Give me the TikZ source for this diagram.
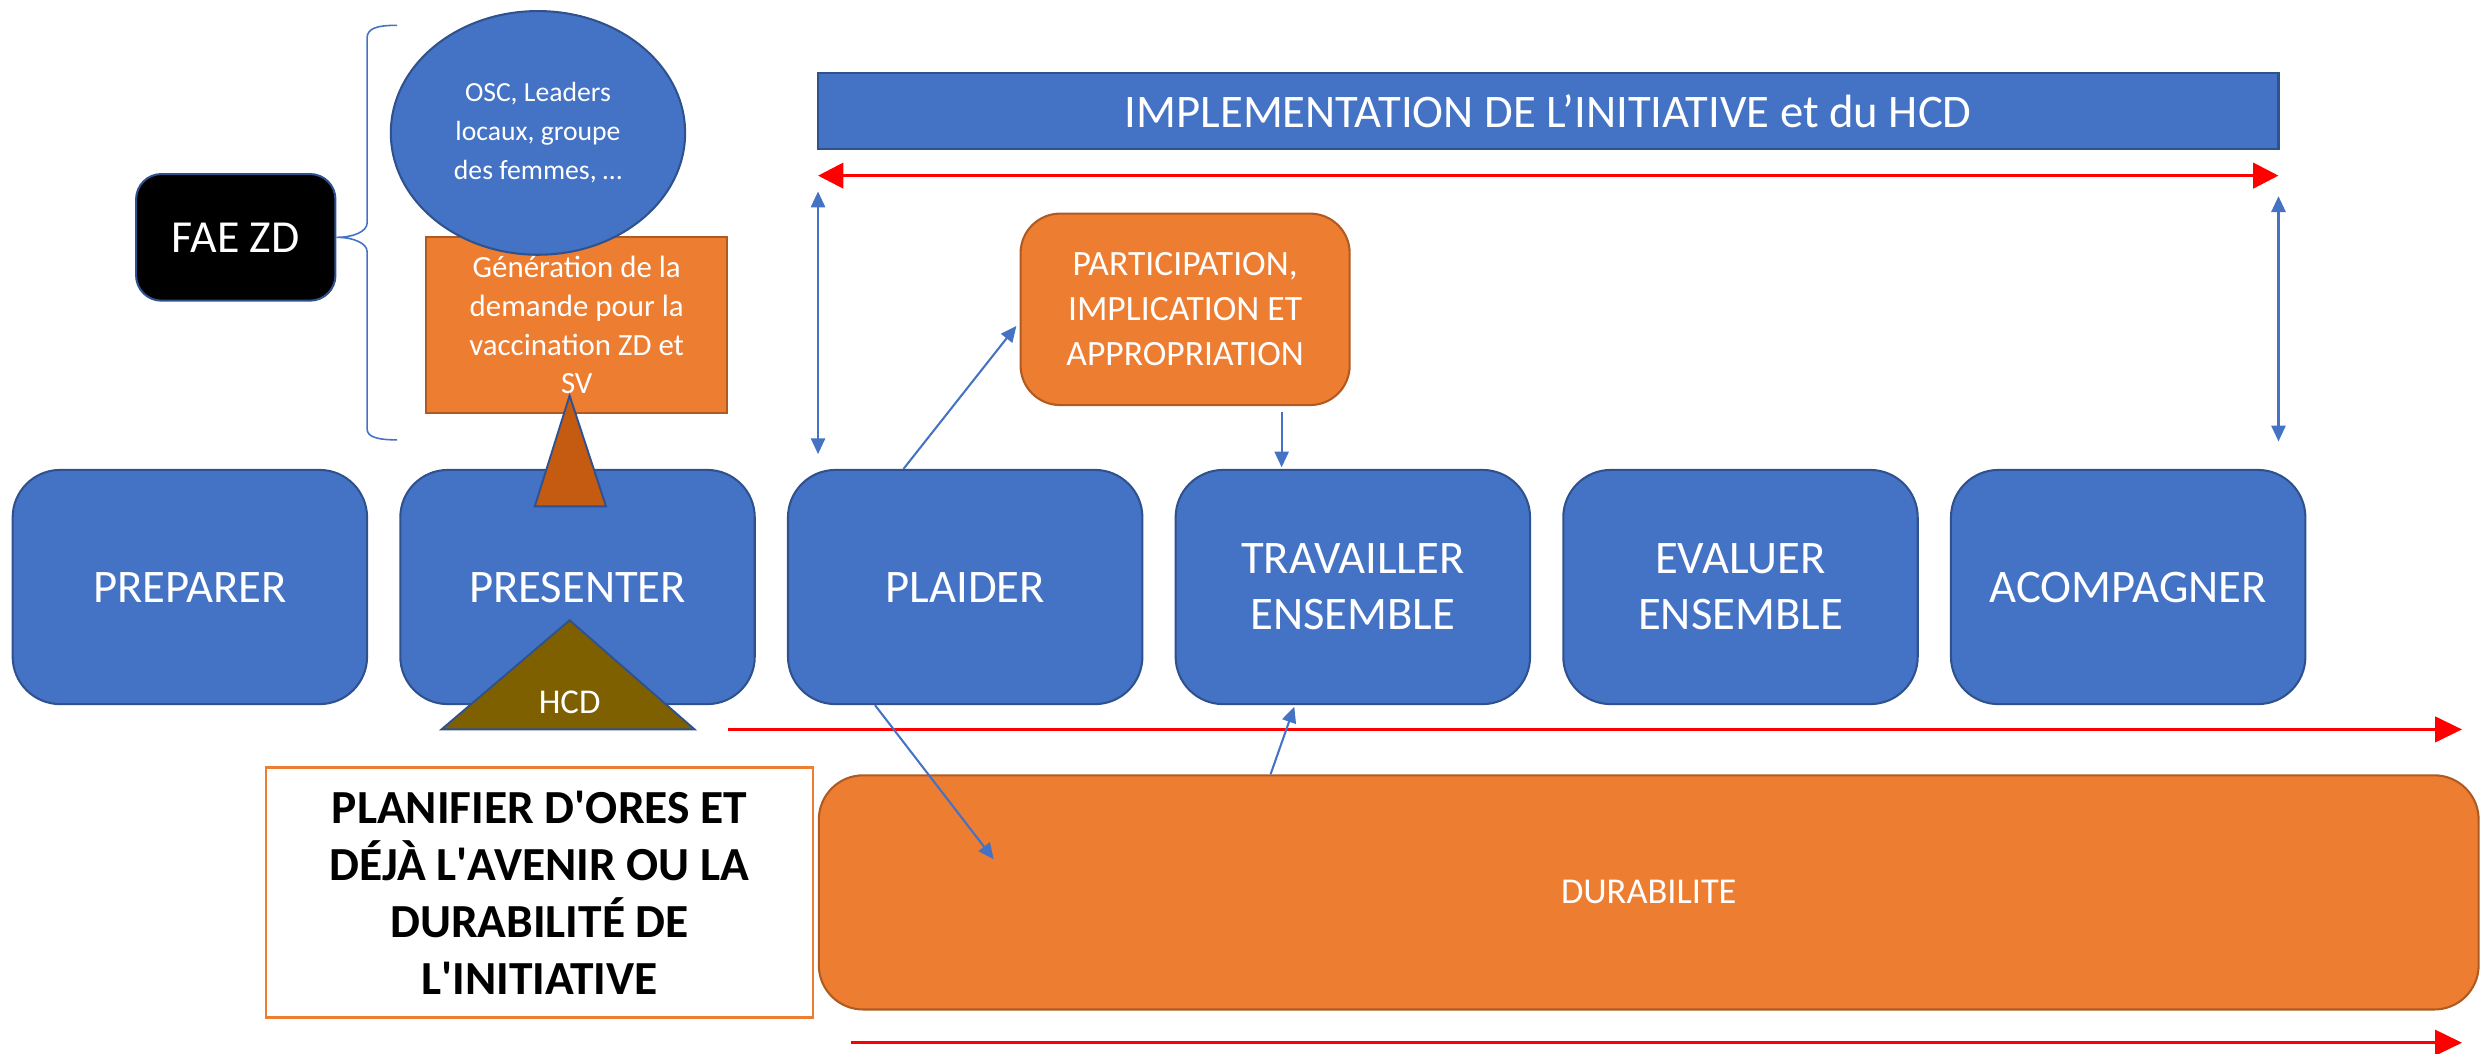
\documentclass[tikz,border=0pt]{standalone}
\usepackage{fontspec}
\setmainfont{Carlito}
\usetikzlibrary{arrows.meta,shapes.geometric,calc}
\definecolor{obBlue}{HTML}{4472C4}
\definecolor{obBlueDk}{HTML}{2F528F}
\definecolor{obOrange}{HTML}{ED7D31}
\definecolor{obOrangeDk}{HTML}{AE5A21}
\definecolor{obRust}{HTML}{C55A11}
\definecolor{obOlive}{HTML}{7F6000}
\definecolor{obRed}{HTML}{FF0000}
\tikzset{
  phase/.style={draw=obBlueDk, fill=obBlue, line width=1.3pt, rounded corners=30pt,
    minimum width=224pt, minimum height=148pt, inner sep=0pt, text=white, align=center,
    font=\fontsize{29.5}{35.5}\selectfont},
  orangebox/.style={draw=obOrangeDk, fill=obOrange, line width=1.3pt, inner sep=0pt,
    text=white, align=center},
  bluelink/.style={draw=obBlue, line width=1.3pt, -{Triangle[length=10pt,width=9pt]}},
  bluedouble/.style={draw=obBlue, line width=1.3pt,
    {Triangle[length=10pt,width=9pt]}-{Triangle[length=10pt,width=9pt]}},
  redline/.style={draw=obRed, line width=2pt, -{Triangle[length=17pt,width=16pt]}},
  reddouble/.style={draw=obRed, line width=2pt,
    {Triangle[length=16pt,width=16pt]}-{Triangle[length=16pt,width=16pt]}},
  shapeline/.style={draw=obBlueDk, line width=1.2pt},
}
\begin{document}
\begin{tikzpicture}[x=1pt,y=-1pt]
\useasboundingbox (0,0) rectangle (1568,666);

% FAE ZD and brace
\node[draw=obBlueDk, fill=black, line width=1.3pt, rounded corners=16pt,
  minimum width=126pt, minimum height=80pt, inner sep=0pt, text=white,
  font=\fontsize{29}{34}\selectfont] (fae) at (149,150) {FAE ZD};
\draw[obBlue, line width=1pt] (251,16) .. controls (238,16) and (232,18) .. (232,24)
  -- (232,141) .. controls (232,146) and (224,150) .. (fae.east)
  .. controls (224,150) and (232,154) .. (232,159)
  -- (232,271) .. controls (232,276) and (238,278) .. (251,278);

% demand generation and ellipse
\node[orangebox, minimum width=190pt, minimum height=111pt,
  font=\fontsize{19.5}{24.5}\selectfont] (gen) at (364.5,205.5)
  {Génération de la\\demande pour la\\vaccination ZD et\\SV};
\node[ellipse, draw=obBlueDk, fill=obBlue, line width=1.3pt, minimum width=186pt,
  minimum height=154pt, inner sep=0pt, text=white, align=center,
  font=\fontsize{17.5}{24.5}\selectfont] (osc) at (340,84)
  {OSC, Leaders\\locaux, groupe\\des femmes, \textellipsis};

% phases
\node[phase] (prep) at (120,371) {PREPARER};
\node[phase] (pres) at (365,371) {PRESENTER};
\node[phase] (plaid) at (610,371) {PLAIDER};
\node[phase] (trav) at (855,371) {TRAVAILLER\\ENSEMBLE};
\node[phase] (eval) at (1100,371) {EVALUER\\ENSEMBLE};
\node[phase] (acc) at (1345,371) {ACOMPAGNER};

% triangles
\filldraw[shapeline, fill=obRust] (360,250) -- (383,320) -- (338,320) -- cycle;
\filldraw[shapeline, fill=obOlive] (360,392) -- (439,461) -- (279,461) -- cycle;
\node[text=white, font=\fontsize{22}{26}\selectfont] (hcd) at (360,444) {HCD};

% implementation banner
\node[draw=obBlueDk, fill=obBlue, line width=1.5pt, minimum width=923pt,
  minimum height=48pt, inner sep=0pt, text=white,
  font=\fontsize{29.5}{34}\selectfont] (impl) at (978.5,70)
  {IMPLEMENTATION DE L’INITIATIVE et du HCD};
\coordinate (rdl) at (517,111);
\coordinate (rdr) at (1440,111);
\draw[reddouble] (rdl) -- (rdr);
\coordinate (bl1) at (517,121);
\coordinate (bl2) at (517,287);
\coordinate (br1) at (1440,124);
\coordinate (br2) at (1440,279);
\draw[bluedouble] (bl1) -- (bl2);
\draw[bluedouble] (br1) -- (br2);

% participation
\node[orangebox, rounded corners=25pt, minimum width=208pt, minimum height=121pt,
  font=\fontsize{22.5}{28.5}\selectfont] (part) at (749,195.5)
  {PARTICIPATION,\\IMPLICATION ET\\APPROPRIATION};
\draw[bluelink] ($(plaid.north)+(-39,0)$) -- ($(part.west)+(-2,10.5)$);
\draw[bluelink] ($(part.south)+(61,4)$) -- ($(trav.north)+(-45,-1)$);

% red timeline under phases
\coordinate (rm1) at (460,461);
\coordinate (rm2) at (1556,461);
\draw[redline] (rm1) -- (rm2);

% planning and durability
\node[draw=obOrange, fill=white, line width=1.5pt, minimum width=346pt,
  minimum height=158pt, inner sep=0pt, align=center,
  font=\bfseries\fontsize{30}{36}\selectfont] (plan) at (341,564)
  {PLANIFIER D\textquotesingle ORES ET\\DÉJÀ L\textquotesingle AVENIR OU LA\\DURABILITÉ DE\\L\textquotesingle INITIATIVE};
\node[orangebox, rounded corners=28pt, minimum width=1049pt, minimum height=148pt,
  font=\fontsize{23}{28}\selectfont] (dur) at (1042,564) {DURABILITE};
\coordinate (dtip) at (628,543);
\draw[bluelink] ($(plaid.south)+(-57,0)$) -- (dtip);
\draw[bluelink] ($(dur.north)+(-239,0)$) -- ($(trav.south)+(-37,1)$);

% bottom red timeline
\coordinate (rb1) at (538,659);
\coordinate (rb2) at (1556,659);
\draw[redline] (rb1) -- (rb2);
\end{tikzpicture}
\end{document}
